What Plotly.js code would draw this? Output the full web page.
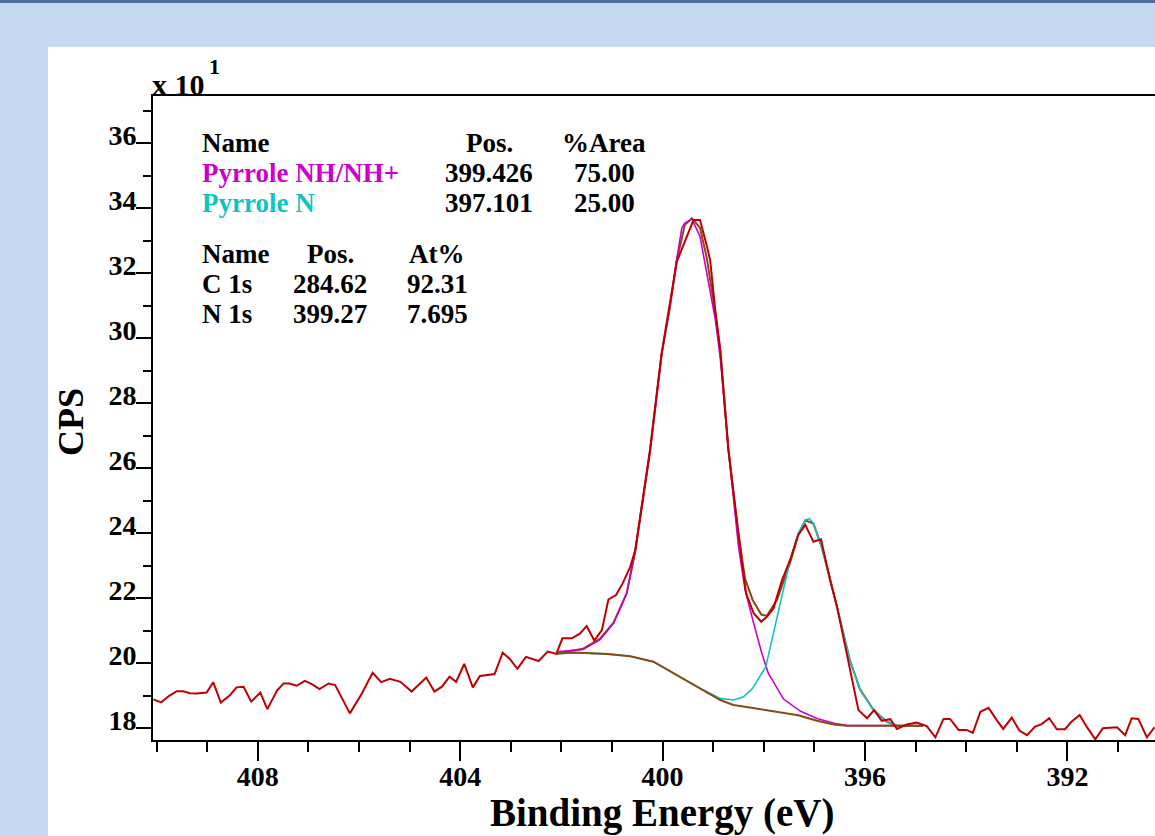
<!DOCTYPE html>
<html>
<head>
<meta charset="utf-8">
<script src="https://cdn.plot.ly/plotly-3.0.1.min.js"></script>
<style>html,body{margin:0;padding:0;background:#c6d9f0;}#chart{width:1155px;height:836px;}</style>
</head>
<body>
<div id="chart"></div>
<script>
// Measured data (CPS x 10^1 vs Binding Energy, eV)
const dataE = [410.06,409.91,409.75,409.60,409.47,409.34,409.21,409.01,408.88,408.73,408.55,408.42,408.28,408.13,407.95,407.81,407.62,407.49,407.38,407.23,407.07,406.93,406.78,406.60,406.47,406.18,405.94,405.73,405.56,405.39,405.18,404.96,404.67,404.51,404.36,404.21,404.08,403.92,403.75,403.61,403.32,403.16,403.01,402.87,402.70,402.55,402.45,402.27,402.10,401.98,401.79,401.63,401.50,401.35,401.20,401.07,400.92,400.79,400.64,400.54,400.25,400.02,399.85,399.72,399.39,399.26,399.13,399.06,398.96,398.86,398.70,398.53,398.43,398.35,398.20,398.05,397.94,397.81,397.64,397.48,397.32,397.18,397.02,396.87,396.69,396.56,396.36,396.13,395.96,395.82,395.67,395.50,395.37,395.17,394.98,394.78,394.61,394.45,394.32,394.15,393.99,393.87,393.72,393.56,393.40,393.27,393.10,392.95,392.80,392.64,392.51,392.36,392.21,392.05,391.92,391.76,391.62,391.45,391.30,391.16,391.02,390.86,390.73,390.60,390.43,390.28];
const dataCPS = [18.89,18.80,19.00,19.14,19.14,19.08,19.07,19.10,19.42,18.79,19.02,19.26,19.28,18.82,19.10,18.59,19.16,19.38,19.38,19.31,19.46,19.36,19.21,19.38,19.33,18.46,19.08,19.71,19.42,19.52,19.43,19.13,19.56,19.13,19.28,19.59,19.43,19.98,19.26,19.61,19.67,20.33,20.12,19.83,20.20,20.12,20.07,20.36,20.29,20.77,20.77,20.92,21.15,20.70,21.02,21.97,22.10,22.46,22.97,23.49,26.56,29.54,31.08,32.36,33.64,33.64,32.87,32.41,30.87,29.64,26.56,24.31,23.08,22.15,21.54,21.28,21.43,21.69,22.56,23.18,23.95,24.26,23.74,23.82,22.56,21.79,20.31,18.56,18.31,18.56,18.23,18.28,17.98,18.12,18.18,18.07,17.72,18.29,18.29,17.95,17.95,17.86,18.51,18.63,18.26,17.98,18.33,17.93,17.79,18.05,18.13,18.31,17.97,17.97,18.20,18.41,18.05,17.66,18.00,18.02,18.03,17.79,18.31,18.29,17.72,18.03];

const bgE = [402.10,401.76,401.10,400.64,400.18,399.72,399.26,398.86,398.60,398.27,397.94,397.61,397.32,396.95,396.62,396.36,394.85];
const bgCPS = [20.30,20.33,20.29,20.22,20.05,19.64,19.23,18.87,18.72,18.64,18.56,18.48,18.40,18.23,18.12,18.08,18.08];

const nhE = [402.10,402.03,401.57,401.24,400.97,400.71,400.54,400.25,400.02,399.85,399.72,399.62,399.56,399.42,399.26,399.13,398.96,398.86,398.70,398.50,398.37,398.20,398.04,397.91,397.61,397.28,396.95,396.59,396.36,394.85];
const nhCPS = [20.29,20.36,20.43,20.72,21.23,22.15,23.49,26.50,29.50,31.05,32.45,33.40,33.55,33.68,33.13,32.00,30.60,29.40,26.60,23.59,22.26,21.23,20.31,19.69,18.90,18.53,18.30,18.15,18.09,18.08];

const nE = [402.10,401.76,401.10,400.64,400.18,399.72,399.26,398.86,398.60,398.40,398.22,397.96,397.84,397.68,397.48,397.32,397.18,397.10,397.02,396.86,396.69,396.49,396.30,396.10,395.83,395.57,395.37,394.85];
const nCPS = [20.29,20.33,20.29,20.22,20.05,19.64,19.23,18.92,18.87,18.97,19.23,19.90,20.72,21.85,23.18,24.00,24.41,24.45,24.31,23.59,22.56,21.33,20.10,19.18,18.56,18.20,18.08,18.08];

const envE = [402.10,401.57,401.24,400.97,400.71,400.54,400.25,400.02,399.85,399.72,399.56,399.42,399.26,399.13,398.96,398.86,398.70,398.53,398.37,398.22,398.05,397.94,397.74,397.48,397.32,397.18,397.02,396.86,396.69,396.49,396.30,396.10,395.83,395.57,395.37,394.85];
const envCPS = [20.30,20.45,20.75,21.25,22.15,23.45,26.50,29.50,31.00,32.40,33.50,33.70,33.40,32.50,30.80,29.60,26.60,24.30,22.60,21.95,21.50,21.46,21.95,23.10,23.95,24.40,24.30,23.60,22.60,21.35,20.10,19.20,18.56,18.20,18.08,18.08];

const table1Header = ["Name","Pos.","%Area"];
const table1Names = ["Pyrrole NH/NH+","Pyrrole N"];
const table1Pos = ["399.426","397.101"];
const table1Area = ["75.00","25.00"];
const table2Header = ["Name","Pos.","At%"];
const table2Names = ["C 1s","N 1s"];
const table2Pos = ["284.62","399.27"];
const table2At = ["92.31","7.695"];

const L=153, T=96, W=1002, H=644;
const px = x => (x-L)/W;
const py = y => 1-(y-T)/H;

const SERIF = 'Liberation Serif, Times New Roman, serif';
const MAG = '#cc00cc', CYA = '#10c4c4', RED = '#c00000', BRN = '#8b4a12';

const traces = [
  {x:envE, y:envCPS, mode:'lines', line:{color:BRN,width:2}, hoverinfo:'skip'},
  {x:nhE, y:nhCPS, mode:'lines', line:{color:MAG,width:1.6}, hoverinfo:'skip'},
  {x:nE, y:nCPS, mode:'lines', line:{color:CYA,width:1.6}, hoverinfo:'skip'},
  {x:bgE, y:bgCPS, mode:'lines', line:{color:BRN,width:2}, hoverinfo:'skip'},
  {x:dataE, y:dataCPS, mode:'lines', line:{color:RED,width:2}, hoverinfo:'skip'}
];

const fTab = (c) => ({family:SERIF, size:27, color:c, weight:'bold'});
function ann(text, xpx, baseline, anchor, color){
  return {text:text, xref:'paper', yref:'paper', x:px(xpx), y:py(baseline-8), xanchor:anchor, yanchor:'middle', showarrow:false, font:fTab(color||'black')};
}
const annotations = [
  ann(table1Header[0],200,151,'left'), ann(table1Header[1],489,151,'center'), ann(table1Header[2],604,151,'center'),
  ann(table1Names[0],200,181,'left',MAG), ann(table1Pos[0],489,181,'center'), ann(table1Area[0],604,181,'center'),
  ann(table1Names[1],200,211,'left',CYA), ann(table1Pos[1],489,211,'center'), ann(table1Area[1],604,211,'center'),
  ann(table2Header[0],200,262,'left'), ann(table2Header[1],330,262,'center'), ann(table2Header[2],437,262,'center'),
  ann(table2Names[0],200,292,'left'), ann(table2Pos[0],330,292,'center'), ann(table2At[0],437,292,'center'),
  ann(table2Names[1],200,322,'left'), ann(table2Pos[1],330,322,'center'), ann(table2At[1],437,322,'center'),
  {text:'x 10', xref:'paper', yref:'paper', x:px(150), y:py(84), xanchor:'left', yanchor:'middle', showarrow:false, font:{family:SERIF,size:30,color:'black',weight:'bold'}},
  {text:'1', xref:'paper', yref:'paper', x:px(207), y:py(66), xanchor:'left', yanchor:'middle', showarrow:false, font:{family:SERIF,size:22,color:'black',weight:'bold'}},
  {text:'Binding Energy (eV)', xref:'paper', yref:'paper', x:px(662), y:py(813), xanchor:'center', yanchor:'middle', showarrow:false, font:{family:SERIF,size:39,color:'black',weight:'bold'}},
  {text:'CPS', xref:'paper', yref:'paper', x:px(71), y:py(422), xanchor:'center', yanchor:'middle', textangle:-90, showarrow:false, font:{family:SERIF,size:36,color:'black',weight:'bold'}}
];

const layout = {
  width:1155, height:836, autosize:false,
  margin:{l:L, r:0, t:T, b:836-T-H, pad:0},
  paper_bgcolor:'#c6d9f0', plot_bgcolor:'white',
  showlegend:false,
  xaxis:{range:[410.07,390.27], tickmode:'linear', tick0:0, dtick:4, ticks:'outside', ticklen:19, tickwidth:2, tickcolor:'black',
    minor:{dtick:1, tick0:0, ticks:'outside', ticklen:10, tickwidth:2, tickcolor:'black', showgrid:false},
    showgrid:false, zeroline:false, showline:true, linewidth:2, linecolor:'black', mirror:true,
    ticklabelstandoff:-9,
    tickfont:{family:SERIF,size:28,color:'black',weight:'bold'}},
  yaxis:{range:[17.64,37.46], tickmode:'linear', tick0:0, dtick:2, ticks:'outside', ticklen:15, tickwidth:2, tickcolor:'black',
    minor:{dtick:1, tick0:0, ticks:'outside', ticklen:8, tickwidth:2, tickcolor:'black', showgrid:false},
    showgrid:false, zeroline:false, showline:true, linewidth:2, linecolor:'black',
    ticklabelshift:-8, ticklabelstandoff:-6,
    tickfont:{family:SERIF,size:28,color:'black',weight:'bold'}},
  shapes:[
    {type:'rect', xref:'paper', yref:'paper', x0:px(48), x1:px(1160), y0:py(840), y1:py(47), fillcolor:'white', line:{width:0}, layer:'below'},
    {type:'rect', xref:'paper', yref:'paper', x0:px(-5), x1:px(1160), y0:py(3), y1:py(-5), fillcolor:'#4d6d9c', line:{width:0}, layer:'below'}
  ],
  annotations:annotations
};

Plotly.newPlot('chart', traces, layout, {displayModeBar:false, staticPlot:true});
</script>
</body>
</html>
